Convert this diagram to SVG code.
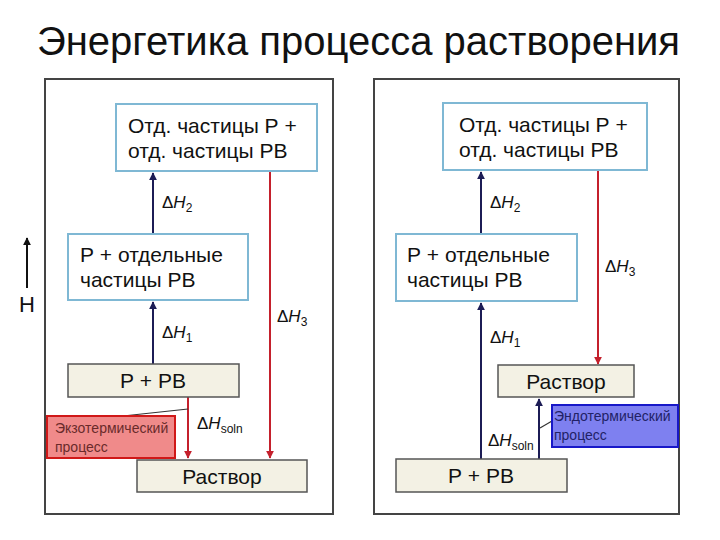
<svg xmlns="http://www.w3.org/2000/svg" width="720" height="540" viewBox="0 0 720 540">
<style>
text{font-family:"Liberation Sans",Arial,sans-serif;fill:#111}
.title{font-size:40px}
.frame{fill:#fff;stroke:#444;stroke-width:2}
.ubox{fill:#fff;stroke:#7fb8d4;stroke-width:2}
.lbox{fill:#f3f1e4;stroke:#555;stroke-width:1.5}
.bt{font-size:21px}
.lt{font-size:21px}
.dh{font-size:17px}
.it{font-style:italic}
.sub{font-size:12px}
.up{stroke:#1c1c55;stroke-width:2;fill:none}
.dn{stroke:#c4202c;stroke-width:2;fill:none}
.exo{fill:#f08a8a;stroke:#d01818;stroke-width:2}
.endo{fill:#7e80f0;stroke:#1818c8;stroke-width:2}
.et{font-size:14px;fill:#6a2a2a}
.nt{font-size:14px;fill:#222266}
</style>
<defs>
<marker id="ab" viewBox="0 0 10 10" refX="9" refY="5" markerWidth="4" markerHeight="4" orient="auto"><path d="M0,0L10,5L0,10z" fill="#1c1c55"/></marker>
<marker id="ar" viewBox="0 0 10 10" refX="9" refY="5" markerWidth="4" markerHeight="4" orient="auto"><path d="M0,0L10,5L0,10z" fill="#c4202c"/></marker>
<marker id="ak" viewBox="0 0 10 10" refX="9" refY="5" markerWidth="4" markerHeight="4" orient="auto"><path d="M0,0L10,5L0,10z" fill="#111"/></marker>
</defs>
<rect width="720" height="540" fill="#fff"/>
<text class="title" x="37" y="55">Энергетика процесса растворения</text>
<g id="axis">
<line x1="27" y1="288" x2="27" y2="238" stroke="#111" stroke-width="2" marker-end="url(#ak)"/>
<text x="27" y="312" font-size="22" text-anchor="middle">H</text>
</g>
<rect class="frame" x="45" y="79" width="288" height="435"/>
<rect class="frame" x="374" y="79" width="305" height="435"/>

<g id="connectors">
<line class="up" x1="153" y1="234" x2="153" y2="173" marker-end="url(#ab)"/>
<line class="up" x1="153" y1="364" x2="153" y2="302" marker-end="url(#ab)"/>
<line class="dn" x1="270" y1="171" x2="270" y2="458" marker-end="url(#ar)"/>
<line class="dn" x1="188" y1="397" x2="188" y2="458" marker-end="url(#ar)"/>
<line x1="123" y1="416" x2="188" y2="409" stroke="#333" stroke-width="1.2"/>
<line class="up" x1="481" y1="234" x2="481" y2="172" marker-end="url(#ab)"/>
<line class="up" x1="481" y1="459" x2="481" y2="303" marker-end="url(#ab)"/>
<line class="dn" x1="598" y1="170" x2="598" y2="364" marker-end="url(#ar)"/>
<line class="up" x1="539" y1="459" x2="539" y2="399" marker-end="url(#ab)"/>
<line x1="540" y1="428" x2="552" y2="421" stroke="#333" stroke-width="1.2"/>
<text class="dh" x="162" y="208">Δ<tspan class="it">H</tspan><tspan class="sub" dy="4">2</tspan></text>
<text class="dh" x="162" y="338">Δ<tspan class="it">H</tspan><tspan class="sub" dy="4">1</tspan></text>
<text class="dh" x="277" y="322">Δ<tspan class="it">H</tspan><tspan class="sub" dy="4">3</tspan></text>
<text class="dh" x="197" y="429">Δ<tspan class="it">H</tspan><tspan class="sub" dy="4">soln</tspan></text>
<text class="dh" x="490" y="208">Δ<tspan class="it">H</tspan><tspan class="sub" dy="4">2</tspan></text>
<text class="dh" x="490" y="343">Δ<tspan class="it">H</tspan><tspan class="sub" dy="4">1</tspan></text>
<text class="dh" x="605" y="272">Δ<tspan class="it">H</tspan><tspan class="sub" dy="4">3</tspan></text>
<text class="dh" x="488" y="446">Δ<tspan class="it">H</tspan><tspan class="sub" dy="4">soln</tspan></text>
</g>

<g id="L-top"><rect class="ubox" x="116" y="104" width="201" height="67"/>
<text class="bt" x="128" y="133">Отд. частицы Р +</text><text class="bt" x="128" y="158">отд. частицы РВ</text></g>
<g id="L-mid"><rect class="ubox" x="68" y="234" width="180" height="66"/>
<text class="bt" x="80" y="262">Р + отдельные</text><text class="bt" x="80" y="287">частицы РВ</text></g>
<g id="L-prb"><rect class="lbox" x="68" y="364" width="171" height="33"/>
<text class="lt" x="153" y="388" text-anchor="middle">Р + РВ</text></g>
<g id="L-exo"><rect class="exo" x="47" y="416" width="128" height="42"/>
<text class="et" x="55" y="433">Экзотермический</text><text class="et" x="55" y="452">процесс</text></g>
<g id="L-sol"><rect class="lbox" x="137" y="460" width="170" height="32"/>
<text class="lt" x="222" y="484" text-anchor="middle">Раствор</text></g>

<g id="R-top"><rect class="ubox" x="443" y="103" width="204" height="67"/>
<text class="bt" x="459" y="132">Отд. частицы Р +</text><text class="bt" x="459" y="157">отд. частицы РВ</text></g>
<g id="R-mid"><rect class="ubox" x="396" y="234" width="181" height="67"/>
<text class="bt" x="407" y="262">Р + отдельные</text><text class="bt" x="407" y="287">частицы РВ</text></g>
<g id="R-sol"><rect class="lbox" x="498" y="365" width="136" height="32"/>
<text class="lt" x="566" y="389" text-anchor="middle">Раствор</text></g>
<g id="R-endo"><rect class="endo" x="552" y="405" width="126" height="42"/>
<text class="nt" x="554" y="421">Эндотермический</text><text class="nt" x="554" y="440">процесс</text></g>
<g id="R-prb"><rect class="lbox" x="396" y="459" width="171" height="33"/>
<text class="lt" x="481" y="483" text-anchor="middle">Р + РВ</text></g>
</svg>
